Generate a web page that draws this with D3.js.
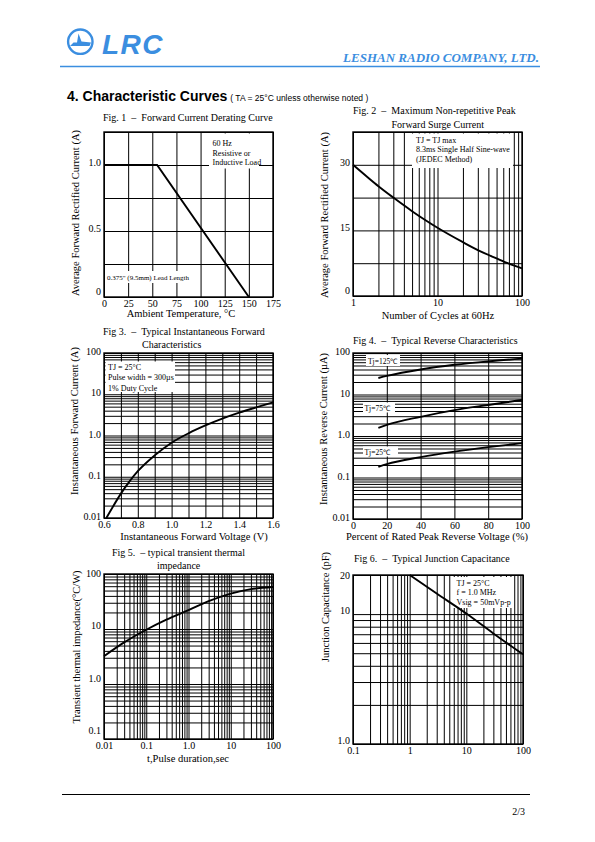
<!DOCTYPE html>
<html><head><meta charset="utf-8">
<script src="https://cdn.jsdelivr.net/npm/d3@7"></script>
<style>
body{margin:0;background:#fff}
svg{display:block}
text{font-family:"Liberation Serif","Times New Roman",serif;fill:#000}
</style></head><body>
<script>
// ---------------- DATA ----------------
// Fig 1 – Forward current derating
const fig1Temp = [0, 55, 150];
const fig1Current = [1.0, 1.0, 0];
const fig1XTicks = [0, 25, 50, 75, 100, 125, 150, 175];
const fig1XLabels = ["0", "25", "50", "75", "100", "125", "150", "175"];
const fig1YTicks = [0, 0.5, 1.0];
const fig1YLabels = ["0", "0.5", "1.0"];
const fig1YGrid = [0, 0.25, 0.5, 0.75, 1.0, 1.25];

// Fig 2 – Maximum non-repetitive peak forward surge current
const fig2Cycles = [1, 1.5, 2, 3, 5, 7, 10, 20, 30, 50, 70, 100];
const fig2Current = [30, 27.1, 25.1, 22.5, 19.4, 17.5, 15.6, 12.3, 10.5, 8.6, 7.4, 6.3];
const fig2XTicks = [1, 10, 100];
const fig2XLabels = ["1", "10", "100"];
const fig2YTicks = [0, 15, 30];
const fig2YLabels = ["0", "15", "30"];
const fig2YGrid = [0, 7.5, 15, 22.5, 30, 37.5];

// Fig 3 – Typical instantaneous forward characteristics
const fig3Voltage = [0.614, 0.65, 0.7, 0.75, 0.8, 0.9, 1.0, 1.1, 1.2, 1.3, 1.4, 1.5, 1.6];
const fig3Current = [0.01, 0.018, 0.039, 0.076, 0.136, 0.33, 0.67, 1.13, 1.75, 2.56, 3.57, 4.8, 6.35];
const fig3XTicks = [0.6, 0.8, 1.0, 1.2, 1.4, 1.6];
const fig3XLabels = ["0.6", "0.8", "1.0", "1.2", "1.4", "1.6"];
const fig3XGrid = [0.6, 0.7, 0.8, 0.9, 1.0, 1.1, 1.2, 1.3, 1.4, 1.5, 1.6];
const fig3YTicks = [0.01, 0.1, 1, 10, 100];
const fig3YLabels = ["0.01", "0.1", "1.0", "10", "100"];

// Fig 4 – Typical reverse characteristics
const fig4Percent = [15, 20, 40, 60, 80, 100];
const fig4Tj125 = [25, 28, 40, 52, 63, 73];
const fig4Tj75 = [1.57, 1.85, 2.9, 4.2, 5.6, 7.4];
const fig4Tj25 = [0.18, 0.21, 0.31, 0.42, 0.54, 0.67];
const fig4XTicks = [0, 20, 40, 60, 80, 100];
const fig4XLabels = ["0", "20", "40", "60", "80", "100"];
const fig4YTicks = [0.01, 0.1, 1, 10, 100];
const fig4YLabels = ["0.01", "0.1", "1.0", "10", "100"];
const fig4SeriesLabels = ["Tj=125\u2103", "Tj=75\u2103", "Tj=25\u2103"];

// Fig 5 – Typical transient thermal impedance
const fig5Time = [0.01, 0.03, 0.1, 0.3, 1, 3, 10, 30, 100];
const fig5Impedance = [3.2, 5.7, 9.7, 14.8, 22, 32, 44, 53, 58];
const fig5XTicks = [0.01, 0.1, 1, 10, 100];
const fig5XLabels = ["0.01", "0.1", "1.0", "10", "100"];
const fig5YTicks = [0.1, 1, 10, 100];
const fig5YLabels = ["0.1", "1.0", "10", "100"];

// Fig 6 – Typical junction capacitance
const fig6Voltage = [1, 3, 10, 30, 100];
const fig6Capacitance = [20, 14.4, 10.1, 7.1, 4.9];
const fig6XTicks = [0.1, 1, 10, 100];
const fig6XLabels = ["0.1", "1", "10", "100"];
const fig6YTicks = [1, 10, 20];
const fig6YLabels = ["1.0", "10", "20"];

// ---------------- DRAWING ----------------
const BLUE = "#3b8ee0";
const svg = d3.select("body").append("svg").attr("width", 595).attr("height", 842);

// Header
const logo = svg.append("g");
logo.append("circle").attr("cx", 80.3).attr("cy", 41.7).attr("r", 12.2)
  .attr("fill", "none").attr("stroke", BLUE).attr("stroke-width", 2.4);
logo.append("path")
  .attr("d", "M78.5,33.5 L81.5,41.5 L91,42.5 L89.5,46 L70,46 L73.5,42.5 L77,42.5 Z")
  .attr("fill", BLUE);
logo.append("text").attr("x", 102).attr("y", 54)
  .style("font-family", "'Liberation Sans',Arial,sans-serif")
  .style("font-weight", "bold").style("font-style", "italic")
  .style("font-size", "28px").style("letter-spacing", "1.5px")
  .style("fill", BLUE).text("LRC");
svg.append("text").attr("x", 539).attr("y", 62).attr("text-anchor", "end")
  .style("font-weight", "bold").style("font-style", "italic").style("font-size", "13px")
  .style("fill", BLUE).text("LESHAN RADIO COMPANY, LTD.");
svg.append("line").attr("x1", 60).attr("x2", 540).attr("y1", 66.5).attr("y2", 66.5)
  .attr("stroke", BLUE).attr("stroke-width", 1.4);

const head = svg.append("text").attr("x", 67).attr("y", 101)
  .style("font-family", "'Liberation Sans',Arial,sans-serif");
head.append("tspan").style("font-weight", "bold").style("font-size", "14px").text("4. Characteristic Curves");
head.append("tspan").style("font-size", "8.5px").attr("dx", 3).text("( TA = 25°C unless otherwise noted )");

// Footer
svg.append("line").attr("x1", 62).attr("x2", 530).attr("y1", 794.5).attr("y2", 794.5)
  .attr("stroke", "#000").attr("stroke-width", 1);
svg.append("text").attr("x", 525).attr("y", 815).attr("text-anchor", "end")
  .style("font-size", "10px").text("2/3");

// lines: strings or [text, x]
function multiText(g, lines, x, y, lh, size) {
  const t = g.append("text").attr("x", x).attr("y", y).style("font-size", size + "px")
    .style("white-space", "pre");
  lines.forEach((l, i) => {
    const txt = Array.isArray(l) ? l[0] : l;
    const lx = Array.isArray(l) ? l[1] : x;
    t.append("tspan").attr("x", lx).attr("y", y + i * lh).text(txt);
  });
  return t;
}

function chart(c) {
  const g = svg.append("g");
  const x = c.x.range([c.x0, c.x1]);
  const y = c.y.range([c.y1, c.y0]);
  const w = c.x1 - c.x0, h = c.y1 - c.y0;

  // grid lines (drawn with axes)
  const gx = g.append("g").attr("transform", `translate(0,${c.y1})`)
    .call(d3.axisBottom(x).tickValues(c.xGrid).tickSize(-h).tickFormat(""));
  const gy = g.append("g").attr("transform", `translate(${c.x0},0)`)
    .call(d3.axisLeft(y).tickValues(c.yGrid).tickSize(-w).tickFormat(""));
  [gx, gy].forEach(a => {
    a.select(".domain").remove();
    a.selectAll("line").attr("stroke", "#000").attr("stroke-width", 1);
  });

  // white annotation boxes
  (c.boxes || []).forEach(b => g.append("rect").attr("x", b[0]).attr("y", b[1])
    .attr("width", b[2]).attr("height", b[3]).attr("fill", "#fff"));

  // frame
  g.append("rect").attr("x", c.x0).attr("y", c.y0).attr("width", w).attr("height", h)
    .attr("fill", "none").attr("stroke", "#000").attr("stroke-width", 1.4);

  // curves
  c.series.forEach(s => {
    g.append("path").datum(d3.zip(s.x, s.y))
      .attr("d", d3.line().x(d => x(d[0])).y(d => y(d[1])).curve(s.curve || d3.curveMonotoneX))
      .attr("fill", "none").attr("stroke", "#000").attr("stroke-width", 1.9);
  });

  // tick labels
  const ax = g.append("g").attr("transform", `translate(0,${c.y1})`)
    .call(d3.axisBottom(x).tickValues(c.xTicks).tickFormat((d, i) => c.xLabels[i]).tickSize(0).tickPadding(3));
  const ay = g.append("g").attr("transform", `translate(${c.x0},0)`)
    .call(d3.axisLeft(y).tickValues(c.yTicks).tickFormat((d, i) => c.yLabels[i]).tickSize(0).tickPadding(3));
  [ax, ay].forEach(a => {
    a.select(".domain").remove();
    a.attr("font-family", null).attr("font-size", null);
    a.selectAll("text").style("font-size", "10px").style("fill", "#000");
  });
  ay.selectAll("text").attr("dy", "0.15em");
  if (c.yLabelShift) ay.selectAll("text").attr("y", (d, i) => c.yLabelShift[i]);

  // titles
  multiText(g, c.title, c.titleX, c.titleY, 13.5, 10);
  if (c.xTitle) g.append("text").attr("x", c.xTitlePos[0]).attr("y", c.xTitlePos[1])
    .attr("text-anchor", "middle").style("font-size", "10.5px").text(c.xTitle);
  g.append("text").attr("transform", `translate(${c.yTitlePos[0]},${c.yTitlePos[1]}) rotate(-90)`)
    .attr("text-anchor", "middle").style("font-size", "10.5px").text(c.yTitle);

  (c.notes || []).forEach(n => multiText(g, n.lines, n.x, n.y, n.lh || 9.5, n.size || 8));
  return g;
}

// Fig 1
chart({
  x0: 104, x1: 273, y0: 132, y1: 297,
  x: d3.scaleLinear().domain([0, 175]), y: d3.scaleLinear().domain([0, 1.25]),
  xGrid: fig1XTicks, yGrid: fig1YGrid,
  xTicks: fig1XTicks, xLabels: fig1XLabels, yTicks: fig1YTicks, yLabels: fig1YLabels,
  yLabelShift: [-4, -1, -1],
  series: [{ x: fig1Temp, y: fig1Current, curve: d3.curveLinear }],
  boxes: [[209, 133.5, 50, 35], [105.5, 271, 88, 12]],
  notes: [{ lines: ["60 Hz", "Resistive or", "Inductive Load"], x: 212.5, y: 146, lh: 9.5 },
          { lines: ["0.375\" (9.5mm) Lead Length"], x: 107, y: 280, size: 7 }],
  title: ["Fig. 1  \u2013  Forward Current Derating Curve"], titleX: 103, titleY: 121,
  xTitle: "Ambient Temperature, \u00B0C", xTitlePos: [181, 317],
  yTitle: "Average Forward Rectified Current (A)", yTitlePos: [78.5, 213]
});

// Fig 2
const s2 = d3.scaleLog().domain([1, 100]);
chart({
  x0: 353, x1: 522, y0: 132, y1: 296,
  x: s2, y: d3.scaleLinear().domain([0, 37.5]),
  xGrid: s2.copy().ticks(), yGrid: fig2YGrid,
  xTicks: fig2XTicks, xLabels: fig2XLabels, yTicks: fig2YTicks, yLabels: fig2YLabels,
  yLabelShift: [-4, -1, -1],
  series: [{ x: fig2Cycles, y: fig2Current }],
  boxes: [[412, 133.5, 101, 34.5]],
  notes: [{ lines: ["TJ = TJ max", "8.3ms Single Half Sine-wave", "(JEDEC Method)"], x: 416, y: 142.5, lh: 9.5 }],
  title: ["Fig. 2  \u2013  Maximum Non-repetitive Peak", ["Forward Surge Current", 391.5]], titleX: 353, titleY: 114,
  xTitle: "Number of Cycles at 60Hz", xTitlePos: [438, 318.5],
  yTitle: "Average Forward Rectified Current (A)", yTitlePos: [327.5, 215]
});

// Fig 3
const s3y = d3.scaleLog().domain([0.01, 100]);
chart({
  x0: 104, x1: 273, y0: 353, y1: 518,
  x: d3.scaleLinear().domain([0.6, 1.6]), y: s3y,
  xGrid: fig3XGrid, yGrid: s3y.copy().ticks(),
  xTicks: fig3XTicks, xLabels: fig3XLabels, yTicks: fig3YTicks, yLabels: fig3YLabels,
  series: [{ x: fig3Voltage, y: fig3Current }],
  boxes: [[105.5, 361.5, 69.5, 30.5]],
  notes: [{ lines: ["TJ = 25\u00B0C", "Pulse width = 300\u00B5s", "1% Duty Cycle"], x: 108, y: 369.5, lh: 10.5 }],
  title: ["Fig 3.  \u2013  Typical Instantaneous Forward", ["Characteristics", 142]], titleX: 103, titleY: 334.5,
  xTitle: "Instantaneous Forward Voltage (V)", xTitlePos: [194, 539.5],
  yTitle: "Instantaneous Forward Current (A)", yTitlePos: [77.5, 421]
});

// Fig 4
const s4y = d3.scaleLog().domain([0.01, 100]);
chart({
  x0: 353, x1: 522, y0: 353, y1: 519,
  x: d3.scaleLinear().domain([0, 100]), y: s4y,
  xGrid: fig4XTicks, yGrid: s4y.copy().ticks(),
  xTicks: fig4XTicks, xLabels: fig4XLabels, yTicks: fig4YTicks, yLabels: fig4YLabels,
  series: [{ x: fig4Percent, y: fig4Tj125 }, { x: fig4Percent, y: fig4Tj75 }, { x: fig4Percent, y: fig4Tj25 }],
  boxes: [[366, 355, 34, 11], [363, 402.5, 32, 10], [363, 446.5, 35, 10]],
  notes: [{ lines: [fig4SeriesLabels[0]], x: 368, y: 364, size: 7.5 },
          { lines: [fig4SeriesLabels[1]], x: 364.5, y: 410.5, size: 7.5 },
          { lines: [fig4SeriesLabels[2]], x: 364.5, y: 454.5, size: 7.5 }],
  title: ["Fig 4.  \u2013  Typical Reverse Characteristics"], titleX: 353, titleY: 343.5,
  xTitle: "Percent of Rated Peak Reverse Voltage (%)", xTitlePos: [437, 539.5],
  yTitle: "Instantaneous Reverse Current (\u00B5A)", yTitlePos: [327, 429]
});

// Fig 5
const s5x = d3.scaleLog().domain([0.01, 100]);
const s5y = d3.scaleLog().domain([0.1, 100]);
chart({
  x0: 104, x1: 273, y0: 574, y1: 739,
  x: s5x, y: s5y,
  xGrid: s5x.copy().ticks(), yGrid: s5y.copy().ticks(),
  xTicks: fig5XTicks, xLabels: fig5XLabels, yTicks: fig5YTicks, yLabels: fig5YLabels,
  yLabelShift: [-7, -4, -2, 1],
  series: [{ x: fig5Time, y: fig5Impedance }],
  title: ["Fig 5.  \u2013 typical transient thermal", ["impedance", 157]], titleX: 112, titleY: 555.5,
  xTitle: "t,Pulse duration,sec", xTitlePos: [188, 762],
  yTitle: "Transient thermal impedance(\u00B0C/W)", yTitlePos: [80, 647]
});

// Fig 6
const s6x = d3.scaleLog().domain([0.1, 100]);
const s6y = d3.scaleLog().domain([1, 20]);
chart({
  x0: 353, x1: 523, y0: 575, y1: 744,
  x: s6x, y: s6y,
  xGrid: s6x.copy().ticks(), yGrid: s6y.copy().ticks(),
  xTicks: fig6XTicks, xLabels: fig6XLabels, yTicks: fig6YTicks, yLabels: fig6YLabels,
  yLabelShift: [-2, -2, 2],
  series: [{ x: fig6Voltage, y: fig6Capacitance }],
  boxes: [[453, 577, 60, 31]],
  notes: [{ lines: ["TJ = 25\u00B0C", "f = 1.0 MHz", "Vsig = 50mVp-p"], x: 456.5, y: 586, lh: 9.3 }],
  title: ["Fig 6.  \u2013  Typical Junction Capacitance"], titleX: 354, titleY: 561.5,
  yTitle: "Junction Capacitance (pF)", yTitlePos: [328.5, 607]
});
</script></body></html>
